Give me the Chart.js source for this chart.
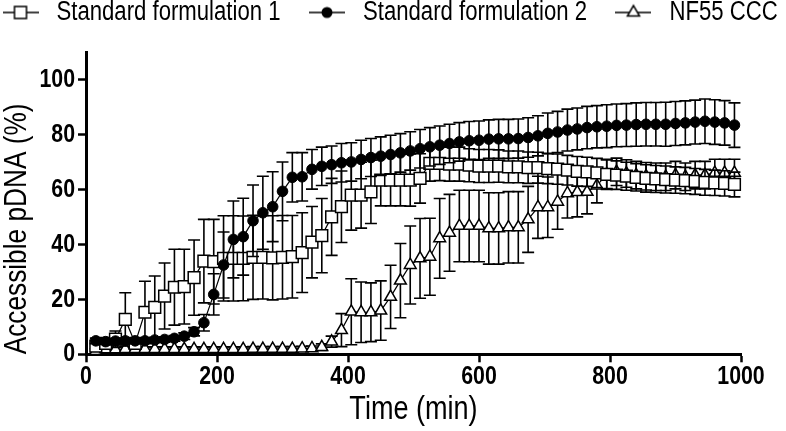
<!DOCTYPE html>
<html><head><meta charset="utf-8">
<script src="https://cdn.jsdelivr.net/npm/chart.js@4.4.1/dist/chart.umd.min.js"></script>
<style>html,body{margin:0;padding:0;background:#fff;}canvas{display:block;}</style>
</head><body>
<canvas id="c" width="786" height="431"></canvas>
<script>
const seriesLabels = ['Standard formulation 1', 'Standard formulation 2', 'NF55 CCC'];
const times = [15,30,45,60,75,90,105,120,135,150,165,180,195,210,225,240,255,270,285,300,315,330,345,360,375,390,405,420,435,450,465,480,495,510,525,540,555,570,585,600,615,630,645,660,675,690,705,720,735,750,765,780,795,810,825,840,855,870,885,900,915,930,945,960,975,990];
const xTicks = [0,200,400,600,800,1000];
const yTicks = [0,20,40,60,80,100];

const sf1Mean = [3.0,4.0,5.5,12.7,4.0,15.3,17.1,21.2,24.4,24.6,27.9,33.9,33.7,34.9,34.9,34.9,35.3,35.3,35.1,35.3,35.5,37.0,40.8,43.2,50.0,53.7,57.9,57.9,59.1,63.4,63.4,63.4,63.4,64.0,69.5,69.5,69.2,69.2,68.8,68.5,68.5,68.5,68.2,68.2,67.9,67.9,67.6,67.4,67.0,66.6,66.4,66.0,65.5,65.2,64.8,64.4,64.0,63.8,63.6,63.4,63.2,62.9,62.6,62.4,62.2,61.8];
const sf1Sd = [1.0,2.0,3.0,9.7,1.5,11.3,11.4,12.0,13.8,13.6,13.7,15.2,15.4,15.5,15.5,15.4,15.3,15.2,15.3,15.2,15.0,14.5,13.0,13.5,14.0,13.0,12.7,12.0,11.5,9.4,9.4,9.4,9.5,9.0,6.5,6.3,6.2,6.2,6.0,6.0,6.0,5.9,5.8,5.8,5.7,5.6,5.5,5.5,5.4,5.4,5.3,5.3,5.2,5.2,5.1,5.0,5.0,4.9,4.9,4.8,4.8,4.7,4.7,4.6,4.6,4.5];

const sf2Mean = [4.9,4.6,4.8,4.9,4.9,4.9,5.2,5.4,5.8,6.6,8.2,11.5,21.8,32.5,41.8,42.8,48.6,51.5,53.7,59.3,64.4,64.6,67.3,68.4,69.0,69.7,70.0,70.9,71.6,72.1,72.7,73.3,74.0,74.8,75.5,76.1,76.7,77.3,77.7,77.9,78.3,78.4,78.4,78.5,78.9,79.5,80.4,80.9,81.6,82.0,82.5,82.8,83.0,83.3,83.4,83.6,83.7,83.7,83.7,84.0,84.2,84.5,84.8,84.5,84.2,83.4];
const sf2Sd = [1.0,1.0,1.0,1.0,1.0,1.0,1.0,1.0,1.0,1.2,1.5,3.0,7.5,12.0,14.0,14.0,13.0,13.3,12.7,10.7,9.0,8.8,7.2,7.0,6.8,7.0,7.0,7.0,6.9,7.0,7.0,7.0,7.0,7.0,7.0,7.0,7.0,7.0,7.0,7.0,7.0,7.1,7.1,7.1,7.2,7.3,7.4,7.5,7.6,7.6,7.7,7.7,7.8,7.8,7.8,7.9,7.9,7.9,8.0,8.0,8.0,8.0,8.1,8.1,8.1,8.1];

const nfMean = [1.2,1.8,1.8,1.9,1.9,1.9,1.9,1.9,1.9,1.9,1.9,1.9,1.9,1.9,1.9,1.9,2.0,2.0,2.0,2.0,2.0,2.1,2.2,2.6,4.6,8.8,15.5,15.3,15.3,15.9,20.9,26.8,32.5,34.9,35.5,42.2,44.2,46.7,46.7,46.7,45.8,45.8,46.2,46.2,49.1,53.5,53.5,55.5,58.6,59.0,59.1,61.4,65.5,66.4,65.8,65.2,64.8,64.6,64.6,65.2,64.6,65.2,65.2,66.0,66.0,66.0];
const nfSd = [0.8,0.8,0.8,0.8,0.8,0.8,0.8,0.8,0.8,0.8,0.8,0.8,0.8,0.8,0.8,0.8,0.8,0.8,0.8,0.8,0.8,0.8,0.8,1.2,2.0,6.0,12.0,11.0,10.7,10.8,11.5,13.5,14.2,14.5,14.0,14.5,14.0,13.0,13.0,13.0,13.0,13.0,13.0,13.0,12.0,11.3,11.0,10.0,9.0,9.0,8.0,6.3,5.5,5.0,5.0,5.0,5.0,5.0,5.0,5.0,5.0,5.0,5.0,5.0,5.0,5.0];

const FONT = "'Liberation Sans', Arial, sans-serif";
const SX = 0.82; // horizontal text compression (condensed look)

const canvas = document.getElementById('c');
const ctx = canvas.getContext('2d');
(function condenseText(c){
  const origFill = c.fillText.bind(c);
  const origMeasure = c.measureText.bind(c);
  c.fillText = function(text, x, y, maxWidth){
    c.save();
    c.translate(x, y);
    c.scale(SX, 1);
    if (maxWidth !== undefined && maxWidth !== null) origFill(text, 0, 0, maxWidth / SX);
    else origFill(text, 0, 0);
    c.restore();
  };
  c.measureText = function(text){
    const m = origMeasure(text);
    return {
      width: m.width * SX,
      actualBoundingBoxLeft: m.actualBoundingBoxLeft * SX,
      actualBoundingBoxRight: m.actualBoundingBoxRight * SX,
      actualBoundingBoxAscent: m.actualBoundingBoxAscent,
      actualBoundingBoxDescent: m.actualBoundingBoxDescent,
      fontBoundingBoxAscent: m.fontBoundingBoxAscent,
      fontBoundingBoxDescent: m.fontBoundingBoxDescent
    };
  };
})(ctx);

function makeIcon(kind){
  const c = document.createElement('canvas');
  c.width = 36; c.height = 20;
  const g = c.getContext('2d');
  g.strokeStyle = '#000'; g.lineWidth = 1.5;
  g.beginPath(); g.moveTo(0,10); g.lineTo(36,10); g.stroke();
  if (kind === 'rect') {
    g.fillStyle = '#fff'; g.fillRect(12,4,12,12); g.strokeRect(12,4,12,12);
  } else if (kind === 'circle') {
    g.fillStyle = '#000'; g.beginPath(); g.arc(18,10,5.5,0,Math.PI*2); g.fill();
  } else {
    const r = 7;
    g.fillStyle = '#fff'; g.beginPath();
    g.moveTo(18, 10 - r);
    g.lineTo(18 + r*Math.sin(2*Math.PI/3), 10 - r*Math.cos(2*Math.PI/3));
    g.lineTo(18 + r*Math.sin(4*Math.PI/3), 10 - r*Math.cos(4*Math.PI/3));
    g.closePath(); g.fill(); g.stroke();
  }
  return c;
}
const icons = [makeIcon('rect'), makeIcon('circle'), makeIcon('triangle')];

const errorBars = {
  id: 'errorBars',
  beforeDatasetDraw(chart, args) {
    const ds = chart.data.datasets[args.index];
    const errs = ds.errors;
    if (!errs) return;
    const ys = chart.scales.y;
    const c = chart.ctx;
    c.save();
    c.strokeStyle = '#000';
    c.lineWidth = 1.6;
    args.meta.data.forEach((pt, i) => {
      const v = ds.data[i].y;
      const top = ys.getPixelForValue(v + errs[i]);
      const bot = ys.getPixelForValue(v - errs[i]);
      const x = pt.x;
      c.beginPath();
      c.moveTo(x, top); c.lineTo(x, bot);
      c.moveTo(x - 6, top); c.lineTo(x + 6, top);
      c.moveTo(x - 6, bot); c.lineTo(x + 6, bot);
      c.stroke();
    });
    c.restore();
  }
};

function pts(means){ return times.map((t, i) => ({x: t, y: means[i]})); }

Chart.defaults.color = '#000';

new Chart(ctx, {
  type: 'line',
  data: {
    datasets: [
      {label: seriesLabels[0], data: pts(sf1Mean), errors: sf1Sd, borderColor: '#000', borderWidth: 1.2, backgroundColor: '#fff',
       pointStyle: 'rect', pointRadius: 8.3, pointBorderWidth: 1.5, pointBackgroundColor: '#fff', pointBorderColor: '#000', order: 1, clip: false, tension: 0},
      {label: seriesLabels[1], data: pts(sf2Mean), errors: sf2Sd, borderColor: '#000', borderWidth: 1.2, backgroundColor: '#000',
       pointStyle: 'circle', pointRadius: 5.3, pointBorderWidth: 1, pointBackgroundColor: '#000', pointBorderColor: '#000', order: 0, clip: false, tension: 0},
      {label: seriesLabels[2], data: pts(nfMean), errors: nfSd, borderColor: '#000', borderWidth: 1.2, backgroundColor: '#fff',
       pointStyle: 'triangle', pointRadius: 6.8, pointBorderWidth: 1.5, pointBackgroundColor: '#fff', pointBorderColor: '#000', order: 2, clip: false, tension: 0}
    ]
  },
  options: {
    responsive: false, animation: false, devicePixelRatio: 1,
    layout: {padding: {left: -26, right: -60, top: -25, bottom: 0}},
    plugins: {
      tooltip: {enabled: false},
      legend: {
        position: 'top', align: 'start',
        labels: {
          usePointStyle: true, pointStyleWidth: 45, padding: 24, color: '#000',
          font: {family: FONT, size: 27},
          sort: (a, b) => a.datasetIndex - b.datasetIndex,
          generateLabels(chart) {
            const items = Chart.defaults.plugins.legend.labels.generateLabels(chart);
            items.forEach(it => { it.pointStyle = icons[it.datasetIndex]; it.fontColor = '#000'; });
            return items;
          }
        }
      }
    },
    scales: {
      x: {
        type: 'linear', position: 'bottom', min: 0, max: 1000,
        afterFit(s) { s.height = 76.7; },
        afterBuildTicks(s) { s.ticks = xTicks.map(v => ({value: v})); },
        border: {display: true, color: '#000', width: 3},
        grid: {display: true, drawOnChartArea: false, drawTicks: true, tickLength: 8, tickWidth: 2.5, tickColor: '#000'},
        ticks: {autoSkip: false, maxRotation: 0, color: '#000', padding: 0, callback: v => String(v),
                font: {family: FONT, size: 26, weight: 'bold', lineHeight: 1.1}},
        title: {display: true, text: 'Time (min)', color: '#000', font: {family: FONT, size: 33}, padding: {top: 0, bottom: 1.2}}
      },
      y: {
        type: 'linear', position: 'left', min: 0, max: 110,
        afterFit(s) { s.width = 112; },
        afterBuildTicks(s) { s.ticks = yTicks.map(v => ({value: v})); },
        border: {display: true, color: '#000', width: 3},
        grid: {display: true, drawOnChartArea: false, drawTicks: true, tickLength: 8, tickWidth: 2.5, tickColor: '#000'},
        ticks: {color: '#000', padding: 3, callback: v => String(v), font: {family: FONT, size: 26, weight: 'bold'}},
        title: {display: true, text: 'Accessible pDNA (%)', align: 'start', color: '#000', font: {family: FONT, size: 32}, padding: {top: 23.8, bottom: 0}}
      },
      x2: {
        type: 'linear', axis: 'x', position: 'top', min: 0, max: 1, display: true,
        grid: {display: false}, border: {display: false}, ticks: {display: false},
        afterFit(s) { s.height = 16; }
      },
      y2: {
        type: 'linear', axis: 'y', position: 'right', min: 0, max: 1, display: true,
        grid: {display: false}, border: {display: false}, ticks: {display: false},
        afterFit(s) { s.width = 105; }
      }
    }
  },
  plugins: [errorBars]
});
</script>
</body></html>
